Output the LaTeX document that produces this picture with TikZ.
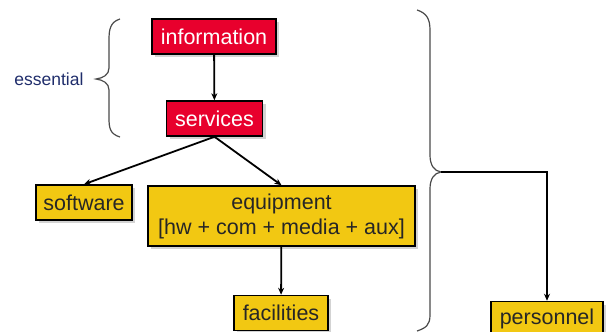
\documentclass[tikz,border=0pt]{standalone}
\usepackage{fontspec}
\setmainfont{Liberation Sans}
\usetikzlibrary{arrows.meta,shadows}
\definecolor{boxred}{HTML}{E8002D}
\definecolor{boxyellow}{HTML}{F2C812}
\definecolor{navy}{HTML}{1F2D6B}
\definecolor{bracegray}{HTML}{4A4A4A}
\tikzset{
  box/.style={draw=black, line width=1.5pt, inner sep=0pt, align=center,
    font=\fontsize{21.5}{25}\selectfont,
    drop shadow={opacity=0.35, shadow xshift=3pt, shadow yshift=-3pt}},
  redbox/.style={box, fill=boxred, text=white},
  yellowbox/.style={box, fill=boxyellow, text=black!85},
  conn/.style={line width=1.8pt, -{Stealth[length=7pt,width=6pt]}},
  bracestyle/.style={draw=bracegray, line width=1.2pt},
}
\begin{document}
\begin{tikzpicture}[x=1pt,y=-1pt]
\useasboundingbox (0,0) rectangle (606,332);
\node[redbox, minimum width=124pt, minimum height=35pt] (info) at (214,36.5) {information};
\node[redbox, minimum width=96pt, minimum height=35pt] (serv) at (214.5,118.5) {services};
\node[yellowbox, minimum width=96pt, minimum height=35pt] (soft) at (84,202.5) {software};
\node[yellowbox, minimum width=267pt, minimum height=60pt] (equip) at (281.5,216) {equipment\\{}[hw + com + media + aux]};
\node[yellowbox, minimum width=94pt, minimum height=35pt] (fac) at (281,313) {facilities};
\node[yellowbox, minimum width=112pt, minimum height=35pt] (pers) at (547,319) {personnel};
\node[text=navy, font=\fontsize{17.5}{20}\selectfont, anchor=east] (ess) at (87,79) {essential};

\draw[conn] (info) -- (serv);
\draw[conn] (serv.south) -- (soft.north);
\draw[conn] (serv.south) -- (equip.north);
\draw[conn] (equip) -- (fac);

% left brace
\draw[bracestyle] (120,19) .. controls (110,22) and (109,30) .. (109,40)
  -- (109,68) .. controls (109,75) and (103,78) .. (96,79)
  .. controls (103,80) and (109,83) .. (109,90)
  -- (109,118) .. controls (109,128) and (110,134) .. (120,137);
% right brace
\coordinate (tip) at (441,172);
\draw[bracestyle] (417,10) .. controls (426,13) and (430,18) .. (430,30)
  -- (430,155) .. controls (430,165) and (434,171) .. (tip)
  .. controls (434,173) and (430,179) .. (430,189)
  -- (430,315) .. controls (430,325) and (426,328) .. (417,331);
\draw[conn] (tip) -| (pers.north);
\end{tikzpicture}
\end{document}
